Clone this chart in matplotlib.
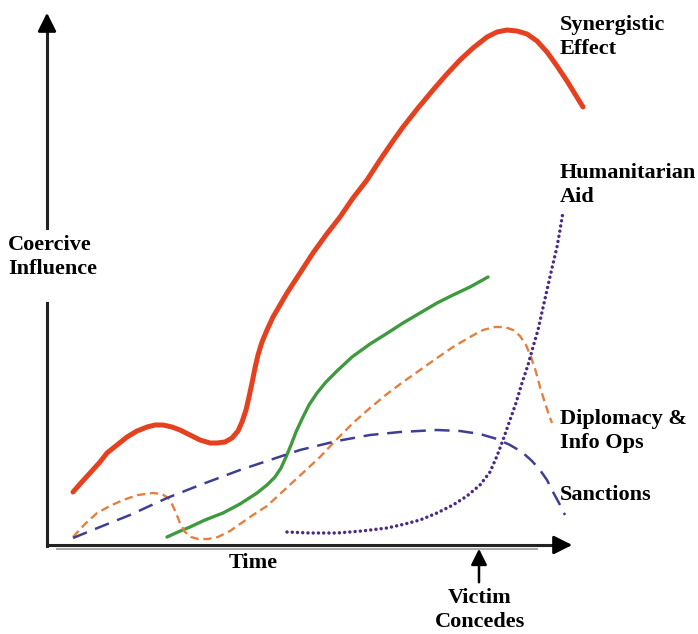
import matplotlib.pyplot as plt

# Curves: time (x) and coercive influence (y)
synergy_t = [26, 33, 43, 53, 60, 70, 80, 90, 100, 108, 116, 125, 133, 143, 153, 163, 170, 178,
             185, 191, 195, 199, 202, 205, 208, 211, 215, 220, 226, 233, 240, 253, 266, 279,
             293, 306, 320, 333, 346, 356, 371, 386, 399, 413, 426, 440, 450, 460, 470, 480,
             490, 500, 510, 520, 528, 536]
synergy_y = [53, 61, 72, 83, 92, 100, 108, 114, 118, 120, 120, 118, 115, 110, 105, 102, 102, 103,
             107, 114, 123, 135, 148, 162, 177, 190, 203, 215, 228, 240, 252, 272, 292, 310,
             328, 347, 365, 385, 404, 418, 437, 455, 470, 485, 497, 508, 513, 515, 514, 511,
             504, 493, 479, 464, 451, 438]

military_t = [120, 131, 143, 158, 176, 193, 210, 220, 228, 234, 239, 244, 249, 255, 262, 270,
              279, 290, 305, 323, 339, 356, 373, 390, 406, 423, 441]
military_y = [8, 13, 18, 25, 32, 41, 52, 60, 68, 77, 88, 100, 113, 126, 140, 152,
              163, 174, 188, 201, 211, 222, 232, 242, 250, 258, 268]

diplomacy_t = [26, 38, 50, 63, 76, 91, 106, 115, 121, 125, 129, 133, 138, 144, 151, 161, 171,
               183, 193, 206, 220, 233, 246, 259, 273, 289, 306, 323, 340, 356, 373, 390, 406,
               423, 436, 448, 458, 466, 473, 479, 484, 489, 493, 498, 502, 505]
diplomacy_y = [8, 21, 32, 39, 45, 50, 52, 51, 47, 41, 32, 22, 13, 8, 6, 6, 8,
               14, 21, 30, 39, 51, 63, 75, 88, 105, 122, 137, 151, 163, 175, 187, 198,
               208, 215, 218, 218, 215, 209, 200, 188, 173, 158, 142, 130, 122]

sanctions_t = [26, 53, 83, 120, 153, 193, 223, 253, 290, 323, 353, 390, 413, 433, 450, 463,
               475, 485, 493, 500, 506, 512, 518]
sanctions_y = [7, 18, 30, 47, 60, 75, 85, 95, 104, 110, 113, 115, 114, 111, 106, 100,
               93, 84, 75, 65, 53, 42, 30]

aid_t = [240, 263, 290, 315, 340, 358, 373, 390, 406, 420, 433, 443, 450, 456, 463, 469, 475,
         481, 486, 491, 495, 500, 505, 510, 513, 516]
aid_y = [13, 12, 12, 14, 17, 21, 25, 32, 40, 49, 60, 73, 89, 105, 125, 142, 162,
         180, 198, 215, 233, 255, 277, 298, 315, 333]

labels = ["Synergistic\nEffect", "Humanitarian\nAid", "Diplomacy &\nInfo Ops", "Sanctions"]
label_y = [508, 360, 114, 50]

font = {"family": "Liberation Serif", "weight": "bold", "size": 16}

fig = plt.figure(figsize=(6.98, 6.34), dpi=100)
ax = fig.add_axes([0, 0, 1, 1])
ax.set_xlim(-47, 651)
ax.set_ylim(-89, 545)
ax.axis("off")

ax.plot(synergy_t, synergy_y, color="#e5411f", lw=3.6, solid_capstyle="round", solid_joinstyle="round")
ax.plot(military_t, military_y, color="#3f9a3f", lw=2.4, solid_capstyle="round", solid_joinstyle="round")
ax.plot(diplomacy_t, diplomacy_y, color="#e3803f", lw=1.7, dashes=(3.5, 2))
ax.plot(sanctions_t, sanctions_y, color="#3d3f93", lw=1.8, dashes=(6, 3.5))
ax.plot(aid_t, aid_y, color="#4a2a86", lw=2.5, dashes=(0.01, 1.5), dash_capstyle="round")

# axes with arrows, y axis broken around its label
ax.plot([0, 0], [-1, 242], color="#222222", lw=2.2)
ax.plot([0, 0], [317, 522], color="#222222", lw=2.2)
ax.plot([0, 510], [0, 0], color="#222222", lw=2.2)
ax.plot([10, 490], [-3.5, -3.5], color="#aaaaaa", lw=1.5)
ax.annotate("", xy=(0, 535), xytext=(0, 515),
            arrowprops=dict(arrowstyle="-|>", color="black", lw=2, mutation_scale=28))
ax.annotate("", xy=(528, 0), xytext=(505, 0),
            arrowprops=dict(arrowstyle="-|>", color="black", lw=2, mutation_scale=28))
ax.annotate("", xy=(432, -1), xytext=(432, -40),
            arrowprops=dict(arrowstyle="-|>", color="black", lw=1.8, mutation_scale=24))

ax.text(206, -18, "Time", ha="center", va="center", **font)
ax.text(433, -65, "Victim\nConcedes", ha="center", va="center", linespacing=1.3, **font)
ax.text(-39, 288, "Coercive\nInfluence", ha="left", va="center", linespacing=1.3, **font)
for lab, y in zip(labels, label_y):
    ax.text(513, y, lab, ha="left", va="center", linespacing=1.3, **font)

fig.savefig("out.png", dpi=100)
